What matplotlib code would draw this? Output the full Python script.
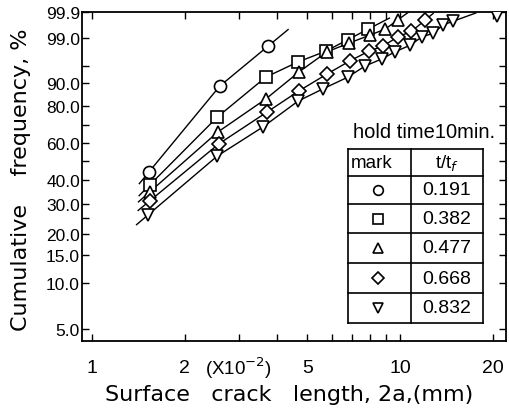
import numpy as np
import matplotlib
matplotlib.use('Agg')
import matplotlib.pyplot as plt
from matplotlib.lines import Line2D
from matplotlib.ticker import NullFormatter

# ---------------- data (crack length in x10^-2 mm, cumulative frequency in %) ----------------
t_ratio = ['0.191', '0.382', '0.477', '0.668', '0.832']
series_markers = ['o', 's', '^', 'D', 'v']

len_0191 = [1.53, 2.60, 3.73]
cum_0191 = [44.1, 88.9, 98.3]
len_0382 = [1.54, 2.55, 3.67, 4.67, 5.75, 6.78, 7.88]
cum_0382 = [37.9, 74.3, 92.0, 95.9, 97.7, 98.9, 99.5]
len_0477 = [1.54, 2.56, 3.67, 4.70, 5.79, 6.83, 7.98, 8.95, 9.85]
cum_0477 = [34.8, 66.0, 83.5, 93.5, 97.6, 98.6, 99.2, 99.5, 99.78]
len_0668 = [1.54, 2.58, 3.70, 4.70, 5.79, 6.88, 7.93, 8.81, 9.85, 10.9, 12.1]
cum_0668 = [31.1, 59.3, 77.0, 87.0, 92.9, 96.1, 97.7, 98.3, 99.1, 99.4, 99.78]
len_0832 = [1.52, 2.55, 3.59, 4.67, 5.62, 6.78, 7.70, 8.76, 9.63, 10.8, 11.8, 12.8, 13.8, 14.9]
cum_0832 = [25.9, 52.5, 68.9, 82.5, 87.8, 92.0, 95.0, 96.5, 97.6, 98.4, 99.1, 99.3, 99.65, 99.75]
len_0832_extra = [20.6]
cum_0832_extra = [99.85]

ytick_vals = [99.9, 99.0, 90.0, 80.0, 60.0, 40.0, 30.0, 20.0, 15.0, 10.0, 5.0]
ytick_labels = ['99.9', '99.0', '90.0', '80.0', '60.0', '40.0', '30.0', '20.0', '15.0', '10.0', '5.0']
ytick_minor = [95, 70, 50, 25]
xtick_vals = [1, 2, 5, 10, 20]
xtick_labels = ['1', '2', '5', '10', '20']
xtick_minor = [3, 4, 6, 7, 8, 9]

# ---------------- style ----------------
plt.rcParams['font.family'] = ['Liberation Sans', 'DejaVu Sans']
W, H = 510, 410
fig = plt.figure(figsize=(W / 100, H / 100), dpi=100)


def fx(x):
    return x / W


def fy(y):
    return 1 - y / H


ax = fig.add_axes([fx(82), fy(342), fx(506) - fx(82), fy(13) - fy(342)])


def weib_fwd(p):
    p = np.clip(np.asarray(p, float), 1e-6, 100 - 1e-6)
    return np.log(-np.log(1 - p / 100.0))


def weib_inv(w):
    return 100.0 * (1 - np.exp(-np.exp(np.asarray(w, float))))


ax.set_xscale('log')
ax.set_yscale('function', functions=(weib_fwd, weib_inv))
ax.set_xlim(0.928, 22.1)
ax.set_ylim(4.18, 99.9)

ax.set_yticks(ytick_vals, labels=ytick_labels)
ax.set_yticks(ytick_minor, minor=True)
ax.set_xticks(xtick_vals, labels=xtick_labels)
ax.set_xticks(xtick_minor, minor=True)
ax.xaxis.set_minor_formatter(NullFormatter())
ax.yaxis.set_minor_formatter(NullFormatter())
ax.tick_params(which='both', direction='in', top=True, right=True,
               length=5, width=1.0, color='black')
ax.tick_params(axis='y', labelsize=12.5, pad=1.5)
ax.tick_params(axis='x', labelsize=14, pad=13)
for s in ax.spines.values():
    s.set_linewidth(1.3)

xs_all = [len_0191, len_0382, len_0477, len_0668, len_0832]
ys_all = [cum_0191, cum_0382, cum_0477, cum_0668, cum_0832]
start_ext = [15, 15, 15, 15, 15]
end_ext = [26, 24, 16, 10, 24]
msize = {'o': 8.7, 's': 8.2, '^': 8.7, 'D': 7.3, 'v': 8.7}


def extended(xs, ys, s_ext, e_ext):
    pts = ax.transData.transform(np.column_stack([xs, ys]))
    d0 = pts[0] - pts[1]
    d0 = d0 / np.hypot(*d0)
    d1 = pts[-1] - pts[-2]
    d1 = d1 / np.hypot(*d1)
    pts = np.vstack([pts[0] + d0 * s_ext, pts, pts[-1] + d1 * e_ext])
    return ax.transData.inverted().transform(pts)


for xs, ys, mk, se, ee in zip(xs_all, ys_all, series_markers, start_ext, end_ext):
    ln = extended(xs, ys, se, ee)
    ax.plot(ln[:, 0], ln[:, 1], '-', color='black', lw=1.0, zorder=2)
    ax.plot(xs, ys, ls='none', marker=mk, ms=msize[mk], mfc='white',
            mec='black', mew=1.2, zorder=3)
ax.plot(len_0832_extra, cum_0832_extra, ls='none', marker='v', ms=msize['v'],
        mfc='white', mec='black', mew=1.2, zorder=3)

# ---------------- axis labels ----------------
fig.text(fx(21), fy(180), 'Cumulative    frequency, %', rotation=90,
         ha='center', va='center', fontsize=16, family='DejaVu Sans')
fig.text(fx(289), fy(395), 'Surface   crack   length, 2a,(mm)',
         ha='center', va='center', fontsize=16, family='DejaVu Sans')
fig.text(fx(238), fy(368), '(X10$^{-2}$)', ha='center', va='center', fontsize=13.5)

# ---------------- legend table ----------------
fig.text(fx(424), fy(132), 'hold time10min.', ha='center', va='center', fontsize=14.5)
row_edges = [150, 177, 205, 234, 264, 294, 324]
x_left, x_mid, x_right = 348, 411, 483
for yy in row_edges:
    fig.add_artist(Line2D([fx(x_left), fx(x_right)], [fy(yy), fy(yy)],
                          color='black', lw=1.2, transform=fig.transFigure))
for xx in (x_left, x_mid, x_right):
    fig.add_artist(Line2D([fx(xx), fx(xx)], [fy(row_edges[0]), fy(row_edges[-1])],
                          color='black', lw=1.2, transform=fig.transFigure))
fig.text(fx(351), fy((row_edges[0] + row_edges[1]) / 2), 'mark', ha='left',
         va='center', fontsize=13.5)
fig.text(fx(447), fy((row_edges[0] + row_edges[1]) / 2), 't/t$_f$', ha='center',
         va='center', fontsize=13.5)
for i, (mk, lab) in enumerate(zip(series_markers, t_ratio)):
    yc = (row_edges[i + 1] + row_edges[i + 2]) / 2
    fig.add_artist(Line2D([fx(378)], [fy(yc)], marker=mk, ms=msize[mk] * 0.8,
                          mfc='white', mec='black', mew=1.2, ls='none',
                          transform=fig.transFigure))
    fig.text(fx(447), fy(yc), lab, ha='center', va='center', fontsize=14)

fig.savefig('out.png', dpi=100)
